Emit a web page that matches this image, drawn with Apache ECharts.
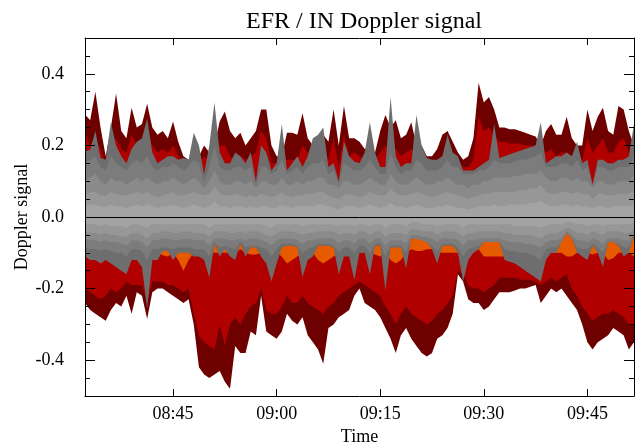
<!DOCTYPE html>
<html>
<head>
<meta charset="utf-8">
<script src="https://cdn.jsdelivr.net/npm/echarts@6/dist/echarts.min.js"></script>
<style>
html,body{margin:0;padding:0;background:#fff}
#chart{width:643px;height:443px}
</style>
</head>
<body>
<div id="chart"></div>
<script>
// Sample times (45 s spacing)
const times = ['08:32:15','08:33:00','08:33:45','08:34:30','08:35:15','08:36:00','08:36:45','08:37:30','08:38:15','08:39:00',
'08:39:45','08:40:30','08:41:15','08:42:00','08:42:45','08:43:30','08:44:15','08:45:00','08:45:45','08:46:30',
'08:47:15','08:48:00','08:48:45','08:49:30','08:50:15','08:51:00','08:51:45','08:52:30','08:53:15','08:54:00',
'08:54:45','08:55:30','08:56:15','08:57:00','08:57:45','08:58:30','08:59:15','09:00:00','09:00:45','09:01:30',
'09:02:15','09:03:00','09:03:45','09:04:30','09:05:15','09:06:00','09:06:45','09:07:30','09:08:15','09:09:00',
'09:09:45','09:10:30','09:11:15','09:12:00','09:12:45','09:13:30','09:14:15','09:15:00','09:15:45','09:16:30',
'09:17:15','09:18:00','09:18:45','09:19:30','09:20:15','09:21:00','09:21:45','09:22:30','09:23:15','09:24:00',
'09:24:45','09:25:30','09:26:15','09:27:00','09:27:45','09:28:30','09:29:15','09:30:00','09:30:45','09:31:30',
'09:32:15','09:33:00','09:33:45','09:34:30','09:35:15','09:36:00','09:36:45','09:37:30','09:38:15','09:39:00',
'09:39:45','09:40:30','09:41:15','09:42:00','09:42:45','09:43:30','09:44:15','09:45:00','09:45:45','09:46:30',
'09:47:15','09:48:00','09:48:45','09:49:30','09:50:15','09:51:00','09:51:45'];

const xTickLabels = ['08:45','09:00','09:15','09:30','09:45'];
const yTickLabels = [-0.4, -0.2, 0.0, 0.2, 0.4];

// Positive Doppler envelopes, outermost level first
const topDark = [0.286,0.27,0.35,0.25,0.17,0.25,0.345,0.24,0.22,0.305,
0.25,0.26,0.316,0.25,0.23,0.24,0.22,0.267,0.21,0.17,
0.16,0.17,0.17,0.20,0.18,0.20,0.267,0.295,0.24,0.22,
0.235,0.20,0.22,0.24,0.30,0.30,0.20,0.17,0.17,0.235,
0.235,0.23,0.29,0.22,0.20,0.22,0.23,0.21,0.30,0.20,
0.31,0.22,0.22,0.21,0.19,0.20,0.18,0.24,0.285,0.25,
0.27,0.22,0.23,0.265,0.20,0.20,0.17,0.17,0.19,0.23,
0.24,0.21,0.18,0.16,0.17,0.22,0.375,0.32,0.335,0.30,
0.25,0.25,0.245,0.245,0.24,0.235,0.23,0.225,0.20,0.24,
0.26,0.23,0.23,0.28,0.22,0.20,0.20,0.30,0.24,0.28,
0.305,0.24,0.23,0.31,0.30,0.24,0.20];
const topRed = [0.24,0.20,0.22,0.19,0.15,0.20,0.22,0.19,0.18,0.23,
0.20,0.21,0.23,0.20,0.18,0.19,0.18,0.20,0.17,0.15,
0.14,0.15,0.15,0.17,0.16,0.17,0.20,0.20,0.17,0.16,
0.17,0.16,0.17,0.18,0.24,0.22,0.15,0.15,0.15,0.16,
0.16,0.16,0.20,0.18,0.17,0.18,0.18,0.16,0.22,0.14,
0.23,0.17,0.18,0.17,0.16,0.16,0.16,0.18,0.20,0.18,
0.19,0.17,0.18,0.19,0.17,0.17,0.15,0.15,0.16,0.17,
0.18,0.16,0.15,0.14,0.14,0.16,0.28,0.24,0.25,0.23,
0.21,0.21,0.205,0.205,0.205,0.20,0.20,0.20,0.19,0.18,
0.19,0.17,0.18,0.18,0.17,0.17,0.16,0.22,0.18,0.20,
0.22,0.18,0.18,0.21,0.22,0.18,0.17];
const topGray1 = [0.183,0.188,0.24,0.165,0.16,0.265,0.20,0.17,0.15,0.19,
0.21,0.22,0.275,0.18,0.15,0.16,0.17,0.17,0.16,0.165,
0.16,0.235,0.20,0.12,0.20,0.32,0.18,0.15,0.15,0.18,
0.17,0.15,0.18,0.10,0.20,0.18,0.13,0.15,0.26,0.13,
0.15,0.17,0.14,0.17,0.22,0.23,0.25,0.14,0.15,0.10,
0.21,0.17,0.155,0.15,0.18,0.265,0.18,0.14,0.14,0.335,
0.17,0.14,0.15,0.15,0.285,0.20,0.165,0.16,0.16,0.17,
0.23,0.18,0.17,0.13,0.13,0.13,0.14,0.15,0.16,0.26,
0.165,0.17,0.175,0.18,0.185,0.19,0.195,0.20,0.265,0.15,
0.16,0.17,0.17,0.18,0.17,0.21,0.15,0.16,0.09,0.16,
0.16,0.15,0.15,0.16,0.16,0.17,0.26];
const topGray2 = [0.15,0.16,0.17,0.14,0.13,0.17,0.15,0.14,0.13,0.15,
0.16,0.15,0.17,0.14,0.13,0.14,0.14,0.15,0.14,0.13,
0.14,0.16,0.15,0.10,0.14,0.20,0.14,0.13,0.13,0.14,
0.14,0.13,0.14,0.09,0.14,0.14,0.12,0.13,0.16,0.12,
0.13,0.14,0.12,0.14,0.15,0.15,0.16,0.12,0.13,0.09,
0.15,0.14,0.13,0.13,0.14,0.16,0.14,0.12,0.12,0.18,
0.14,0.12,0.13,0.13,0.16,0.15,0.13,0.13,0.13,0.14,
0.16,0.14,0.14,0.12,0.12,0.12,0.13,0.13,0.14,0.16,
0.15,0.15,0.15,0.155,0.16,0.16,0.165,0.17,0.18,0.14,
0.14,0.14,0.15,0.15,0.14,0.16,0.13,0.14,0.09,0.14,
0.14,0.13,0.13,0.14,0.14,0.14,0.17];
const topGray3 = [0.10,0.11,0.12,0.10,0.09,0.11,0.10,0.10,0.09,0.10,
0.11,0.10,0.11,0.10,0.09,0.10,0.10,0.11,0.10,0.09,
0.10,0.11,0.10,0.08,0.10,0.13,0.10,0.09,0.09,0.10,
0.10,0.09,0.10,0.08,0.10,0.10,0.09,0.09,0.11,0.09,
0.09,0.10,0.09,0.10,0.10,0.11,0.11,0.09,0.09,0.08,
0.10,0.10,0.09,0.09,0.10,0.11,0.10,0.09,0.09,0.12,
0.10,0.09,0.09,0.10,0.11,0.10,0.09,0.09,0.10,0.10,
0.11,0.10,0.09,0.09,0.08,0.09,0.09,0.10,0.10,0.11,
0.11,0.11,0.11,0.115,0.115,0.12,0.12,0.12,0.13,0.11,
0.10,0.10,0.11,0.11,0.10,0.11,0.10,0.10,0.08,0.10,
0.10,0.09,0.09,0.10,0.10,0.10,0.12];
const topGray4 = [0.06,0.07,0.07,0.06,0.06,0.07,0.065,0.06,0.06,0.065,
0.07,0.065,0.07,0.06,0.055,0.06,0.065,0.07,0.06,0.06,
0.065,0.07,0.065,0.06,0.065,0.085,0.065,0.06,0.06,0.065,
0.06,0.055,0.06,0.055,0.065,0.06,0.055,0.06,0.07,0.06,
0.055,0.06,0.06,0.065,0.065,0.07,0.07,0.06,0.055,0.05,
0.06,0.065,0.06,0.055,0.06,0.07,0.065,0.06,0.06,0.08,
0.065,0.06,0.06,0.065,0.07,0.065,0.06,0.055,0.06,0.065,
0.07,0.065,0.06,0.055,0.05,0.055,0.06,0.065,0.065,0.07,
0.07,0.07,0.07,0.07,0.075,0.075,0.08,0.08,0.09,0.07,
0.065,0.065,0.07,0.07,0.065,0.07,0.065,0.065,0.05,0.065,
0.065,0.06,0.06,0.065,0.065,0.065,0.075];
const topGray5 = [0.03,0.035,0.035,0.03,0.03,0.035,0.03,0.03,0.025,0.03,
0.035,0.03,0.035,0.03,0.025,0.03,0.03,0.035,0.03,0.025,
0.03,0.035,0.03,0.025,0.03,0.045,0.03,0.03,0.025,0.03,
0.03,0.025,0.03,0.025,0.03,0.03,0.025,0.025,0.035,0.03,
0.025,0.03,0.03,0.03,0.03,0.035,0.035,0.03,0.025,0.02,
0.03,0.03,0.03,0.025,0.03,0.035,0.03,0.025,0.03,0.04,
0.03,0.03,0.025,0.03,0.035,0.03,0.025,0.025,0.03,0.03,
0.035,0.03,0.025,0.025,0.02,0.025,0.03,0.03,0.03,0.035,
0.03,0.03,0.035,0.035,0.035,0.035,0.04,0.04,0.045,0.035,
0.03,0.03,0.035,0.035,0.03,0.035,0.03,0.03,0.025,0.03,
0.03,0.025,0.03,0.03,0.03,0.03,0.035];

// Negative Doppler envelopes, outermost level first
const botDark = [-0.24,-0.26,-0.27,-0.28,-0.29,-0.26,-0.24,-0.25,-0.22,-0.27,
-0.21,-0.22,-0.285,-0.21,-0.20,-0.20,-0.21,-0.22,-0.23,-0.24,
-0.23,-0.30,-0.42,-0.44,-0.45,-0.44,-0.43,-0.46,-0.48,-0.36,
-0.38,-0.38,-0.32,-0.33,-0.22,-0.32,-0.33,-0.34,-0.32,-0.27,
-0.29,-0.30,-0.28,-0.33,-0.35,-0.37,-0.41,-0.31,-0.30,-0.28,
-0.27,-0.26,-0.22,-0.20,-0.24,-0.25,-0.26,-0.28,-0.31,-0.34,
-0.38,-0.33,-0.31,-0.34,-0.36,-0.38,-0.39,-0.38,-0.34,-0.33,
-0.31,-0.27,-0.16,-0.18,-0.23,-0.24,-0.24,-0.26,-0.25,-0.23,
-0.21,-0.21,-0.21,-0.205,-0.20,-0.20,-0.195,-0.19,-0.24,-0.22,
-0.20,-0.21,-0.20,-0.22,-0.24,-0.26,-0.30,-0.35,-0.37,-0.35,
-0.34,-0.33,-0.31,-0.32,-0.33,-0.37,-0.35];
const botRed = [-0.20,-0.21,-0.22,-0.23,-0.22,-0.20,-0.21,-0.20,-0.18,-0.19,
-0.19,-0.19,-0.24,-0.18,-0.18,-0.18,-0.19,-0.19,-0.20,-0.21,
-0.20,-0.27,-0.33,-0.35,-0.36,-0.37,-0.30,-0.36,-0.30,-0.28,
-0.30,-0.27,-0.25,-0.24,-0.20,-0.26,-0.27,-0.27,-0.25,-0.22,
-0.24,-0.24,-0.22,-0.24,-0.25,-0.26,-0.27,-0.25,-0.24,-0.22,
-0.21,-0.20,-0.19,-0.18,-0.19,-0.20,-0.21,-0.22,-0.25,-0.27,
-0.30,-0.27,-0.25,-0.27,-0.28,-0.29,-0.30,-0.29,-0.27,-0.26,
-0.24,-0.22,-0.15,-0.16,-0.19,-0.20,-0.20,-0.21,-0.20,-0.19,
-0.17,-0.17,-0.17,-0.17,-0.175,-0.175,-0.175,-0.18,-0.19,-0.18,
-0.17,-0.18,-0.17,-0.16,-0.20,-0.22,-0.25,-0.27,-0.29,-0.28,
-0.27,-0.27,-0.26,-0.27,-0.28,-0.30,-0.30];
const botOrange = [-0.10,-0.10,-0.10,-0.10,-0.10,-0.10,-0.10,-0.10,-0.10,-0.10,
-0.10,-0.10,-0.10,-0.10,-0.10,-0.107,-0.11,-0.10,-0.12,-0.15,
-0.12,-0.10,-0.10,-0.10,-0.10,-0.10,-0.10,-0.10,-0.10,-0.10,
-0.09,-0.10,-0.105,-0.105,-0.10,-0.10,-0.10,-0.10,-0.11,-0.13,
-0.12,-0.11,-0.10,-0.10,-0.10,-0.12,-0.13,-0.12,-0.11,-0.10,
-0.10,-0.10,-0.10,-0.10,-0.10,-0.10,-0.105,-0.11,-0.10,-0.12,
-0.13,-0.12,-0.10,-0.09,-0.095,-0.095,-0.09,-0.09,-0.10,-0.10,
-0.10,-0.10,-0.10,-0.10,-0.10,-0.10,-0.09,-0.11,-0.11,-0.11,
-0.11,-0.11,-0.10,-0.10,-0.10,-0.10,-0.10,-0.10,-0.10,-0.10,
-0.10,-0.10,-0.10,-0.11,-0.11,-0.10,-0.10,-0.10,-0.105,-0.10,
-0.10,-0.12,-0.115,-0.10,-0.10,-0.10,-0.11];
const botGray1 = [-0.11,-0.12,-0.12,-0.13,-0.12,-0.13,-0.14,-0.15,-0.16,-0.12,
-0.12,-0.14,-0.255,-0.12,-0.12,-0.095,-0.095,-0.12,-0.10,-0.10,
-0.10,-0.11,-0.11,-0.12,-0.17,-0.075,-0.11,-0.09,-0.11,-0.12,
-0.075,-0.11,-0.085,-0.085,-0.11,-0.13,-0.18,-0.13,-0.085,-0.08,
-0.08,-0.085,-0.168,-0.12,-0.11,-0.08,-0.08,-0.08,-0.085,-0.16,
-0.11,-0.11,-0.177,-0.10,-0.10,-0.16,-0.08,-0.08,-0.205,-0.085,
-0.085,-0.085,-0.143,-0.06,-0.06,-0.065,-0.07,-0.09,-0.13,-0.08,
-0.08,-0.08,-0.10,-0.18,-0.12,-0.10,-0.09,-0.07,-0.07,-0.07,
-0.07,-0.12,-0.125,-0.13,-0.14,-0.15,-0.16,-0.17,-0.18,-0.12,
-0.10,-0.10,-0.07,-0.045,-0.06,-0.10,-0.11,-0.12,-0.08,-0.10,
-0.14,-0.07,-0.07,-0.08,-0.11,-0.10,-0.05];
const botGray2 = [-0.085,-0.09,-0.09,-0.095,-0.09,-0.095,-0.10,-0.10,-0.11,-0.09,
-0.09,-0.095,-0.12,-0.09,-0.09,-0.085,-0.085,-0.09,-0.085,-0.085,
-0.085,-0.09,-0.09,-0.09,-0.11,-0.07,-0.085,-0.08,-0.085,-0.09,
-0.07,-0.085,-0.08,-0.08,-0.085,-0.09,-0.11,-0.09,-0.075,-0.075,
-0.075,-0.08,-0.10,-0.09,-0.085,-0.075,-0.075,-0.075,-0.08,-0.10,
-0.085,-0.085,-0.10,-0.08,-0.08,-0.10,-0.075,-0.075,-0.11,-0.08,
-0.08,-0.08,-0.10,-0.06,-0.06,-0.065,-0.07,-0.08,-0.095,-0.075,
-0.075,-0.075,-0.085,-0.11,-0.09,-0.085,-0.08,-0.07,-0.07,-0.07,
-0.07,-0.09,-0.095,-0.095,-0.10,-0.10,-0.105,-0.11,-0.12,-0.09,
-0.085,-0.085,-0.07,-0.045,-0.06,-0.085,-0.09,-0.09,-0.075,-0.085,
-0.10,-0.07,-0.07,-0.075,-0.085,-0.085,-0.05];
const botGray3 = [-0.06,-0.065,-0.065,-0.07,-0.065,-0.07,-0.07,-0.075,-0.08,-0.065,
-0.065,-0.07,-0.085,-0.065,-0.065,-0.06,-0.06,-0.065,-0.065,-0.06,
-0.06,-0.065,-0.065,-0.065,-0.08,-0.06,-0.06,-0.06,-0.065,-0.065,
-0.06,-0.065,-0.06,-0.06,-0.065,-0.07,-0.08,-0.065,-0.06,-0.06,
-0.06,-0.065,-0.075,-0.065,-0.065,-0.06,-0.06,-0.06,-0.06,-0.075,
-0.065,-0.065,-0.075,-0.06,-0.06,-0.075,-0.06,-0.06,-0.08,-0.065,
-0.065,-0.065,-0.075,-0.05,-0.05,-0.055,-0.055,-0.06,-0.07,-0.06,
-0.06,-0.06,-0.065,-0.08,-0.065,-0.065,-0.06,-0.06,-0.06,-0.06,
-0.06,-0.065,-0.07,-0.07,-0.07,-0.075,-0.075,-0.08,-0.085,-0.07,
-0.065,-0.065,-0.06,-0.04,-0.05,-0.065,-0.065,-0.07,-0.06,-0.065,
-0.075,-0.06,-0.06,-0.06,-0.065,-0.065,-0.045];
const botGray4 = [-0.04,-0.045,-0.045,-0.05,-0.045,-0.05,-0.05,-0.055,-0.055,-0.045,
-0.045,-0.05,-0.06,-0.045,-0.045,-0.04,-0.04,-0.045,-0.045,-0.04,
-0.04,-0.045,-0.045,-0.045,-0.055,-0.04,-0.04,-0.04,-0.045,-0.045,
-0.04,-0.045,-0.04,-0.04,-0.045,-0.05,-0.055,-0.045,-0.04,-0.04,
-0.04,-0.045,-0.05,-0.045,-0.045,-0.04,-0.04,-0.04,-0.04,-0.05,
-0.045,-0.045,-0.05,-0.04,-0.04,-0.05,-0.04,-0.04,-0.055,-0.045,
-0.045,-0.045,-0.05,-0.035,-0.035,-0.04,-0.04,-0.04,-0.05,-0.04,
-0.04,-0.04,-0.045,-0.055,-0.045,-0.045,-0.04,-0.04,-0.04,-0.04,
-0.04,-0.045,-0.045,-0.05,-0.05,-0.05,-0.05,-0.055,-0.06,-0.05,
-0.045,-0.045,-0.04,-0.03,-0.035,-0.045,-0.045,-0.05,-0.04,-0.045,
-0.05,-0.04,-0.04,-0.04,-0.045,-0.045,-0.035];
const botGray5 = [-0.02,-0.02,-0.02,-0.025,-0.02,-0.025,-0.025,-0.025,-0.03,-0.02,
-0.02,-0.025,-0.03,-0.02,-0.02,-0.02,-0.02,-0.02,-0.02,-0.02,
-0.02,-0.02,-0.02,-0.02,-0.03,-0.02,-0.02,-0.02,-0.02,-0.02,
-0.02,-0.02,-0.02,-0.02,-0.02,-0.025,-0.03,-0.02,-0.02,-0.02,
-0.02,-0.02,-0.025,-0.02,-0.02,-0.02,-0.02,-0.02,-0.02,-0.025,
-0.02,-0.02,-0.025,-0.02,-0.02,-0.025,-0.02,-0.02,-0.03,-0.02,
-0.02,-0.02,-0.025,-0.015,-0.015,-0.02,-0.02,-0.02,-0.025,-0.02,
-0.02,-0.02,-0.02,-0.03,-0.02,-0.02,-0.02,-0.02,-0.02,-0.02,
-0.02,-0.02,-0.02,-0.025,-0.025,-0.025,-0.025,-0.025,-0.03,-0.025,
-0.02,-0.02,-0.02,-0.015,-0.015,-0.02,-0.02,-0.025,-0.02,-0.02,
-0.025,-0.02,-0.02,-0.02,-0.02,-0.02,-0.015];

const C_DARKRED = '#6f0000';
const C_RED = '#b00000';
const C_ORANGE = '#e65a00';
const C_G1 = '#6e6e6e', C_G2 = '#7c7c7c', C_G3 = '#8a8a8a', C_G4 = '#979797', C_G5 = '#a3a3a3';

const FONT = "'Liberation Serif', 'Times New Roman', serif";

function band(name, data, color) {
  return {
    name: name, type: 'line', data: data,
    symbol: 'none', showSymbol: false, silent: true,
    lineStyle: { width: 0 },
    areaStyle: { color: color, opacity: 1 },
    z: 2
  };
}

const isXTick = function (idx, val) {
  return val.slice(6) === '00' && xTickLabels.indexOf(val.slice(0, 5)) >= 0;
};

const frame = { show: true, onZero: false, lineStyle: { color: '#000', width: 1 } };

const series = [
  band('topDark', topDark, C_DARKRED),
  band('topRed', topRed, C_RED),
  band('topGray1', topGray1, C_G1),
  band('topGray2', topGray2, C_G2),
  band('topGray3', topGray3, C_G3),
  band('topGray4', topGray4, C_G4),
  band('topGray5', topGray5, C_G5),
  band('botDark', botDark, C_DARKRED),
  band('botRed', botRed, C_RED),
  band('botOrange', botOrange, C_ORANGE),
  band('botGray1', botGray1, C_G1),
  band('botGray2', botGray2, C_G2),
  band('botGray3', botGray3, C_G3),
  band('botGray4', botGray4, C_G4),
  band('botGray5', botGray5, C_G5)
];
// zero reference line
series[series.length - 1].markLine = {
  silent: true, symbol: 'none', label: { show: false },
  lineStyle: { color: '#000', width: 1, type: 'solid' },
  data: [{ yAxis: 0 }]
};

const chart = echarts.init(document.getElementById('chart'), null, { renderer: 'canvas' });
chart.setOption({
  animation: false,
  backgroundColor: '#fff',
  title: {
    text: 'EFR / IN Doppler signal',
    left: 359, top: 5, textAlign: 'center',
    textStyle: { fontFamily: FONT, fontSize: 24, fontWeight: 'normal', color: '#000' }
  },
  grid: { left: 85, right: 9, top: 38, bottom: 47, outerBoundsMode: 'none' },
  xAxis: [
    {
      type: 'category', data: times, boundaryGap: false, position: 'bottom',
      axisLine: frame,
      axisTick: { show: true, inside: true, length: 7, interval: isXTick, lineStyle: { color: '#000' } },
      axisLabel: { interval: isXTick, formatter: function (v) { return v.slice(0, 5); }, margin: 9,
                   fontFamily: FONT, fontSize: 18, color: '#000' },
      splitLine: { show: false },
      name: 'Time', nameLocation: 'middle', nameGap: 27,
      nameTextStyle: { fontFamily: FONT, fontSize: 18, color: '#000' },
      z: 10
    },
    {
      type: 'category', data: times, boundaryGap: false, position: 'top',
      axisLine: frame,
      axisTick: { show: true, inside: true, length: 7, interval: isXTick, lineStyle: { color: '#000' } },
      axisLabel: { show: false }, splitLine: { show: false }, z: 10
    }
  ],
  yAxis: [
    {
      type: 'value', min: -0.5, max: 0.5, interval: 0.05, position: 'left',
      axisLine: frame,
      axisTick: { show: true, inside: true, length: 5, lineStyle: { color: '#000' } },
      axisLabel: {
        margin: 21, fontFamily: FONT, fontSize: 18, color: '#000',
        formatter: function (v) {
          const k = Math.round(v * 100);
          if (Math.abs(k) % 20 !== 0) return '';
          if (k === 0) return '0.0';
          return (k / 100).toFixed(1);
        }
      },
      splitLine: { show: false },
      name: 'Doppler signal', nameLocation: 'middle', nameGap: 54, nameRotate: 90,
      nameMoveOverlap: false,
      nameTextStyle: { fontFamily: FONT, fontSize: 18, color: '#000' },
      z: 10
    },
    {
      type: 'value', min: -0.5, max: 0.5, position: 'left',
      axisLine: { show: false },
      axisTick: { show: true, inside: true, length: 10, customValues: yTickLabels, lineStyle: { color: '#000' } },
      axisLabel: { show: false }, splitLine: { show: false }, z: 10
    },
    {
      type: 'value', min: -0.5, max: 0.5, interval: 0.05, position: 'right',
      axisLine: frame,
      axisTick: { show: true, inside: true, length: 5, lineStyle: { color: '#000' } },
      axisLabel: { show: false }, splitLine: { show: false }, z: 10
    },
    {
      type: 'value', min: -0.5, max: 0.5, position: 'right',
      axisLine: { show: false },
      axisTick: { show: true, inside: true, length: 10, customValues: yTickLabels, lineStyle: { color: '#000' } },
      axisLabel: { show: false }, splitLine: { show: false }, z: 10
    }
  ],
  series: series
});
</script>
</body>
</html>
